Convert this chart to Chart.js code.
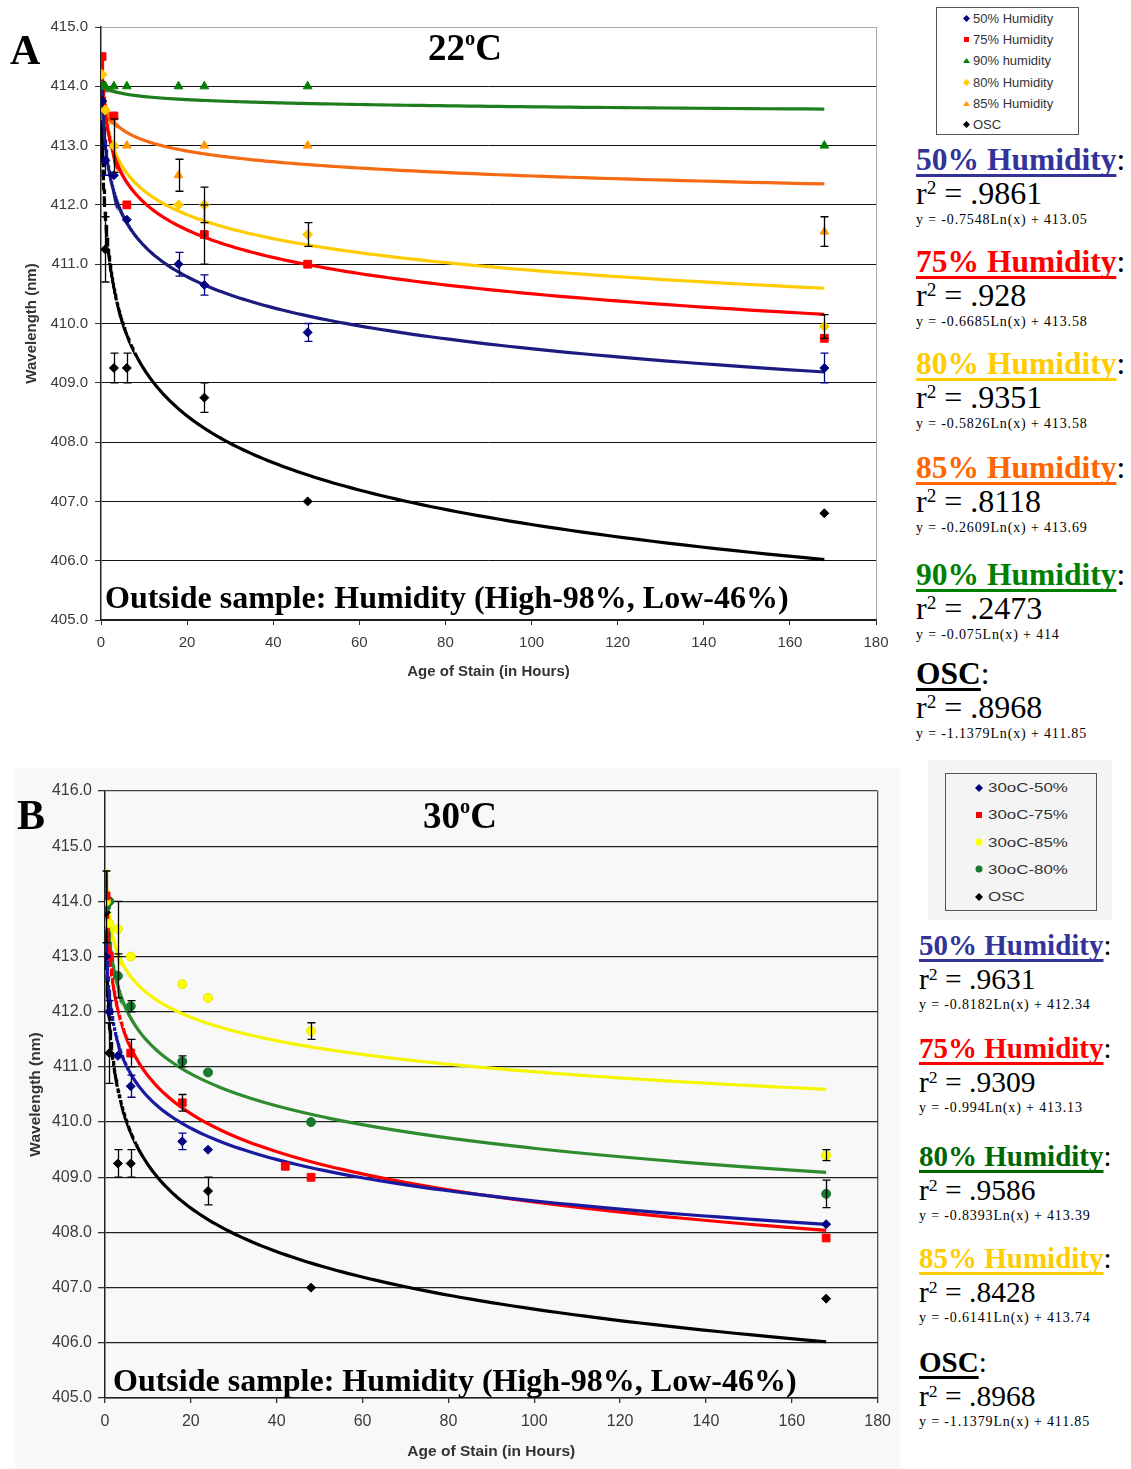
<!DOCTYPE html>
<html>
<head>
<meta charset="utf-8">
<title>Wavelength vs. age of stain</title>
<script src="https://cdn.jsdelivr.net/npm/chart.js@4.4.1/dist/chart.umd.min.js"></script>
<style>
  html, body { margin:0; padding:0; background:#fff; }
  body { position:relative; width:1131px; height:1469px; overflow:hidden; }
  .wrap { position:absolute; }
  .txt { position:absolute; white-space:nowrap; color:#000; }
  .sup { position:relative; line-height:0; }
  .hd { font-weight:bold; text-decoration:underline; text-decoration-thickness:3px; text-underline-offset:4px; text-decoration-skip-ink:none; }
  .box { position:absolute; box-sizing:border-box; }
</style>
</head>
<body>
<div class="wrap" style="left:15px;top:768px;width:885px;height:701px;background:#f8f8f8"></div>
<div class="wrap" style="left:0;top:0;width:900px;height:700px"><canvas id="chartA" width="900" height="700"></canvas></div>
<div class="wrap" style="left:0;top:750px;width:900px;height:719px"><canvas id="chartB" width="900" height="719"></canvas></div>
<script>
// ---------------- Panel A: 22 °C ----------------
const hoursA    = [0.25, 1, 3, 6, 18, 24, 48, 168];
const rh50A     = [413.75, 412.75, 412.5, 411.75, 411.0, 410.65, 409.85, 409.25];
const rh50AErr  = [0, 0.25, 0, 0, 0.2, 0.17, 0.15, 0.25];
const rh75A     = [414.5, null, 413.5, 412.0, null, 411.5, 411.0, 409.75];
const rh75AErr  = [0, 0, 0, 0, 0, 0.5, 0, 0];
const rh90A     = [414.0, 414.0, 414.0, 414.0, 414.0, 414.0, 414.0, 413.0];
const rh80A     = [414.2, 413.6, 413.0, null, 412.0, 412.0, 411.5, 409.95];
const rh80AErr  = [0, 0, 0.45, 0, 0, 0.3, 0.2, 0.2];
const rh85A     = [414.0, null, 413.0, 413.0, 412.5, 413.0, 413.0, 411.55];
const rh85AErr  = [0, 0, 0, 0, 0.27, 0, 0, 0.25];
const oscA      = [413.75, 411.25, 409.25, 409.25, null, 408.75, 407.0, 406.8];
const oscAErr   = [0, 0.55, 0.25, 0.25, 0, 0.25, 0, 0];
const seriesLabelsA = ['50% Humidity', '75% Humidity', '90% humidity', '80% Humidity', '85% Humidity', 'OSC'];

// logarithmic fits for panel A: y = slope·Ln(x) + intercept
const fitNamesA     = ['50% Humidity', '75% Humidity', '80% Humidity', '85% Humidity', '90% Humidity', 'OSC'];
const fitR2A        = ['.9861', '.928', '.9351', '.8118', '.2473', '.8968'];
const fitSlopeA     = [-0.7548, -0.6685, -0.5826, -0.2609, -0.075, -1.1379];
const fitInterceptA = [413.05, 413.58, 413.58, 413.69, 414, 411.85];

// ---------------- Panel B: 30 °C ----------------
const hoursB    = [0.25, 1, 3, 6, 18, 24, 42, 48, 168];
const rh50B     = [413.0, 412.0, 411.2, 410.65, 409.65, 409.5, null, null, 408.15];
const rh50BErr  = [0, 0.2, 0, 0.2, 0.15, 0, 0, 0, 0];
const rh75B     = [414.1, 413.0, null, 411.25, 410.35, null, 409.2, 409.0, 407.9];
const rh75BErr  = [0, 0, 0, 0.25, 0.15, 0, 0, 0, 0];
const rh85B     = [414.0, 413.6, 413.5, 413.0, 412.5, 412.25, null, 411.65, 409.4];
const rh85BErr  = [0, 0, 0.5, 0, 0, 0, 0, 0.15, 0.1];
const rh80B     = [413.9, 414.0, 412.65, 412.1, 411.1, 410.9, null, 410.0, 408.7];
const rh80BErr  = [0.65, 0, 0.4, 0.1, 0.1, 0, 0, 0, 0.25];
const oscB      = [413.8, 411.25, 409.25, 409.25, null, 408.75, null, 407.0, 406.8];
const oscBErr   = [0, 0.55, 0.25, 0.25, 0, 0.25, 0, 0, 0];
const seriesLabelsB = ['30oC-50%', '30oC-75%', '30oC-85%', '30oC-80%', 'OSC'];

const fitNamesB     = ['50% Humidity', '75% Humidity', '80% Humidity', '85% Humidity', 'OSC'];
const fitR2B        = ['.9631', '.9309', '.9586', '.8428', '.8968'];
const fitSlopeB     = [-0.8182, -0.994, -0.8393, -0.6141, -1.1379];
const fitInterceptB = [412.34, 413.13, 413.39, 413.74, 411.85];

const SANS = "'Liberation Sans', Arial, sans-serif";
const SERIF = "'Liberation Serif', 'Times New Roman', serif";

// ---------------- helpers ----------------
function seriesPoints(xs, ys, errs) {
  const out = [];
  xs.forEach((x, i) => { if (ys[i] !== null) out.push({ x: x, y: ys[i], err: errs ? errs[i] : 0 }); });
  return out;
}
// samples the fitted log curve over the measured time span
function fitCurve(slope, intercept, x0, x1) {
  const n = 240, pts = [];
  for (let k = 0; k <= n; k++) {
    const x = x0 * Math.pow(x1 / x0, k / n);
    pts.push({ x: x, y: slope * Math.log(x) + intercept });
  }
  return pts;
}
const steepDash = c => {
  const dx = Math.abs(c.p1.x - c.p0.x), dy = Math.abs(c.p1.y - c.p0.y);
  return dy > 2 * dx ? [8, 5] : undefined;
};

function pointSet(label, data, style) {
  return {
    label: label, data: data, showLine: false, isSeries: true,
    pointStyle: style.shape, pointRadius: style.r, pointHoverRadius: style.r,
    backgroundColor: style.color, borderColor: style.edge || style.color, borderWidth: 1,
    errorColor: style.err || '#000'
  };
}
function fitSet(slope, intercept, xs, color, dashed) {
  const ds = {
    data: fitCurve(slope, intercept, xs[0], xs[xs.length - 1]),
    showLine: true, pointRadius: 0, pointHoverRadius: 0, borderColor: color,
    borderWidth: 3.2, fill: false, tension: 0
  };
  if (dashed) ds.segment = { borderDash: steepDash };
  return ds;
}

// vertical error bars with caps, positioned through the chart scales
const errorBars = {
  id: 'errorBars',
  afterDatasetsDraw(chart) {
    const ctx = chart.ctx, xs = chart.scales.x, ys = chart.scales.y;
    ctx.save();
    ctx.lineWidth = 1.3;
    chart.data.datasets.forEach(ds => {
      if (!ds.isSeries) return;
      ds.data.forEach(p => {
        if (!p.err) return;
        const px = Math.round(xs.getPixelForValue(p.x)) + 0.5;
        const top = ys.getPixelForValue(p.y + p.err), bot = ys.getPixelForValue(p.y - p.err);
        ctx.strokeStyle = ds.errorColor;
        ctx.beginPath();
        ctx.moveTo(px, top); ctx.lineTo(px, bot);
        ctx.moveTo(px - 4, top); ctx.lineTo(px + 4, top);
        ctx.moveTo(px - 4, bot); ctx.lineTo(px + 4, bot);
        ctx.stroke();
      });
    });
    ctx.restore();
  }
};

function makeChart(id, datasets, g) {
  return new Chart(document.getElementById(id), {
    type: 'scatter',
    data: { datasets: datasets },
    plugins: [errorBars],
    options: {
      responsive: false, animation: false, events: [],
      layout: { padding: { top: g.padTop, right: g.padRight, left: 0, bottom: 0 } },
      plugins: { legend: { display: false }, tooltip: { enabled: false } },
      scales: {
        x: {
          type: 'linear', min: 0, max: 180,
          afterFit: s => { s.height = g.xHeight; },
          ticks: { stepSize: 20, maxRotation: 0, padding: g.xTickPad, color: '#3a3a3a', font: { family: SANS, size: g.tickSize } },
          grid: {
            color: c => (c.tick && c.tick.value === 180) ? g.frameColor : 'rgba(0,0,0,0)',
            lineWidth: g.gridWidth, tickColor: '#333', tickLength: 5
          },
          border: { display: true, color: '#222', width: 1.5 },
          title: { display: true, text: 'Age of Stain (in Hours)', color: '#333', padding: { top: 0, bottom: g.xTitlePad }, font: { family: SANS, size: g.titleSize, weight: 'bold' } }
        },
        y: {
          min: g.yMin, max: g.yMax,
          afterFit: s => { s.width = g.yWidth; },
          ticks: { stepSize: 1, padding: g.yTickPad, color: '#3a3a3a', font: { family: SANS, size: g.tickSize }, callback: v => Number(v).toFixed(1) },
          grid: {
            color: c => (c.tick && c.tick.value === g.yMax) ? g.topColor : g.gridColor,
            lineWidth: g.gridWidth, tickColor: '#333', tickLength: g.yTickLen
          },
          border: { display: true, color: '#222', width: 1.5 },
          title: { display: true, text: 'Wavelength (nm)', color: '#333', padding: { top: g.yTitlePad, bottom: 0 }, font: { family: SANS, size: g.titleSize, weight: 'bold' } }
        }
      }
    }
  });
}

Chart.defaults.font.family = SANS;

// ---------------- chart A ----------------
const chartA = makeChart('chartA', [
  pointSet(seriesLabelsA[0], seriesPoints(hoursA, rh50A, rh50AErr), { shape: 'rectRot', r: 4.5, color: '#000080', err: '#000080' }),
  pointSet(seriesLabelsA[1], seriesPoints(hoursA, rh75A, rh75AErr), { shape: 'rect', r: 5.5, color: '#FF0000' }),
  pointSet(seriesLabelsA[2], seriesPoints(hoursA, rh90A), { shape: 'triangle', r: 5, color: '#008000' }),
  pointSet(seriesLabelsA[3], seriesPoints(hoursA, rh80A, rh80AErr), { shape: 'rectRot', r: 5, color: '#FFCC00' }),
  pointSet(seriesLabelsA[4], seriesPoints(hoursA, rh85A, rh85AErr), { shape: 'triangle', r: 5, color: '#FF9900' }),
  pointSet(seriesLabelsA[5], seriesPoints(hoursA, oscA, oscAErr), { shape: 'rectRot', r: 4.5, color: '#000000' }),
  fitSet(fitSlopeA[0], fitInterceptA[0], hoursA, '#1C1C80', false),
  fitSet(fitSlopeA[1], fitInterceptA[1], hoursA, '#FF0000', false),
  fitSet(fitSlopeA[2], fitInterceptA[2], hoursA, '#FFCC00', false),
  fitSet(fitSlopeA[3], fitInterceptA[3], hoursA, '#F56A12', false),
  fitSet(fitSlopeA[4], fitInterceptA[4], hoursA, '#1E7E1E', false),
  fitSet(fitSlopeA[5], fitInterceptA[5], hoursA, '#000000', true)
], {
  yMin: 405, yMax: 415, padTop: 27, padRight: 24, yWidth: 101, xHeight: 80,
  tickSize: 15, titleSize: 15, xTickPad: 9, yTickPad: 7, yTickLen: 6,
  xTitlePad: 19, yTitlePad: 23, gridColor: '#111', topColor: '#a8a8a8', frameColor: '#a8a8a8', gridWidth: 1
});

// ---------------- chart B ----------------
const chartB = makeChart('chartB', [
  pointSet(seriesLabelsB[0], seriesPoints(hoursB, rh50B, rh50BErr), { shape: 'rectRot', r: 4.5, color: '#000080', err: '#000080' }),
  pointSet(seriesLabelsB[1], seriesPoints(hoursB, rh75B, rh75BErr), { shape: 'rect', r: 5.5, color: '#FF0000' }),
  pointSet(seriesLabelsB[2], seriesPoints(hoursB, rh85B, rh85BErr), { shape: 'circle', r: 4.5, color: '#FFFF00', edge: '#E6E600' }),
  pointSet(seriesLabelsB[3], seriesPoints(hoursB, rh80B, rh80BErr), { shape: 'circle', r: 4.5, color: '#157A2E' }),
  pointSet(seriesLabelsB[4], seriesPoints(hoursB, oscB, oscBErr), { shape: 'rectRot', r: 4.5, color: '#000000' }),
  fitSet(fitSlopeB[0], fitInterceptB[0], hoursB, '#1A1AA0', true),
  fitSet(fitSlopeB[1], fitInterceptB[1], hoursB, '#FF0000', true),
  fitSet(fitSlopeB[2], fitInterceptB[2], hoursB, '#2E8B2E', false),
  fitSet(fitSlopeB[3], fitInterceptB[3], hoursB, '#F5F500', false),
  fitSet(fitSlopeB[4], fitInterceptB[4], hoursB, '#000000', true)
], {
  yMin: 405, yMax: 416, padTop: 41, padRight: 16, yWidth: 105, xHeight: 71,
  tickSize: 16, titleSize: 15.5, xTickPad: 9, yTickPad: 6, yTickLen: 7,
  xTitlePad: 8, yTitlePad: 26, gridColor: '#222', topColor: '#444', frameColor: '#555', gridWidth: 1.3
});

// ---------------- text overlays ----------------
function textAt(html, x, baseline, size, family, extra) {
  const el = document.createElement('div');
  el.className = 'txt';
  const k = family === SERIF ? 0.8375 : 0.8465;
  el.style.left = x + 'px';
  el.style.top = (baseline - k * size) + 'px';
  el.style.fontSize = size + 'px';
  el.style.lineHeight = size + 'px';
  el.style.fontFamily = family;
  if (extra) Object.assign(el.style, extra);
  el.innerHTML = html;
  document.body.appendChild(el);
  return el;
}
const deg = '<span class="sup" style="top:-0.72em;font-size:0.55em">o</span>';
const sq = '<span class="sup" style="top:-0.55em;font-size:0.6em">2</span>';

textAt('A', 10, 64, 42, SERIF, { fontWeight: 'bold' });
textAt('22' + deg + 'C', 428, 60, 37, SERIF, { fontWeight: 'bold' });
textAt('Outside sample: Humidity (High-98%, Low-46%)', 105, 608, 32, SERIF, { fontWeight: 'bold' });
textAt('B', 17, 829, 42, SERIF, { fontWeight: 'bold' });
textAt('30' + deg + 'C', 423, 828, 37, SERIF, { fontWeight: 'bold' });
textAt('Outside sample: Humidity (High-98%, Low-46%)', 113, 1391, 32, SERIF, { fontWeight: 'bold' });

// fit summaries beside each panel
function fitNotes(names, colors, r2s, slopes, intercepts, layout) {
  names.forEach((name, i) => {
    const b = layout.baselines[i];
    textAt('<span class="hd" style="color:' + colors[i] + '">' + name + '</span>:', layout.left, b, layout.hSize, SERIF);
    textAt('r' + sq + ' = ' + r2s[i], layout.left, b + layout.dr, layout.rSize, SERIF);
    textAt('y = ' + slopes[i] + 'Ln(x) + ' + intercepts[i], layout.left, b + layout.de, layout.eSize, SERIF, { letterSpacing: '0.85px' });
  });
}
fitNotes(fitNamesA, ['#333399', '#FF0000', '#FFCC00', '#FF6600', '#008000', '#000000'], fitR2A, fitSlopeA, fitInterceptA,
  { left: 916, baselines: [170, 272, 374, 478, 585, 684], dr: 34, de: 55, hSize: 31.5, rSize: 32, eSize: 14 });
fitNotes(fitNamesB, ['#333399', '#FF0000', '#006600', '#FFCC00', '#000000'], fitR2B, fitSlopeB, fitInterceptB,
  { left: 919, baselines: [955, 1058, 1166, 1268, 1372], dr: 35, de: 55, hSize: 29, rSize: 29.5, eSize: 14 });

// legends built from the scatter datasets
function markerSvg(ds, size) {
  const s = size, h = s / 2, c = ds.backgroundColor;
  let shape;
  if (ds.pointStyle === 'rectRot') shape = '<polygon points="' + h + ',0 ' + s + ',' + h + ' ' + h + ',' + s + ' 0,' + h + '" fill="' + c + '"/>';
  else if (ds.pointStyle === 'rect') shape = '<rect x="1" y="1" width="' + (s - 2) + '" height="' + (s - 2) + '" fill="' + c + '"/>';
  else if (ds.pointStyle === 'triangle') shape = '<polygon points="' + h + ',1 ' + s + ',' + (s - 1) + ' 0,' + (s - 1) + '" fill="' + c + '"/>';
  else shape = '<circle cx="' + h + '" cy="' + h + '" r="' + (h - 0.5) + '" fill="' + c + '"/>';
  return '<svg width="' + s + '" height="' + s + '" viewBox="0 0 ' + s + ' ' + s + '">' + shape + '</svg>';
}
function htmlLegend(chart, box, rows) {
  const frame = document.createElement('div');
  frame.className = 'box';
  Object.assign(frame.style, { left: box.x + 'px', top: box.y + 'px', width: box.w + 'px', height: box.h + 'px', border: '1px solid #555', background: box.bg });
  document.body.appendChild(frame);
  chart.data.datasets.filter(d => d.isSeries).forEach((ds, i) => {
    const base = rows.first + i * rows.step;
    const m = document.createElement('div');
    m.style.position = 'absolute';
    m.style.left = (rows.markerX - rows.markerSize / 2) + 'px';
    m.style.top = (base - rows.markerLift - rows.markerSize / 2) + 'px';
    m.style.lineHeight = '0';
    m.innerHTML = markerSvg(ds, rows.markerSize);
    document.body.appendChild(m);
    textAt(ds.label, rows.textX, base, rows.size, SANS, { color: '#333', transform: 'scaleX(' + rows.stretch + ')', transformOrigin: 'left center' });
  });
}
const legendBgB = document.createElement('div');
legendBgB.className = 'box';
Object.assign(legendBgB.style, { left: '928px', top: '760px', width: '184px', height: '160px', background: '#f4f4f4' });
document.body.appendChild(legendBgB);

htmlLegend(chartA, { x: 936, y: 7, w: 143, h: 128, bg: '#fff' },
  { first: 22.7, step: 21.3, markerX: 966, markerSize: 7, markerLift: 4.5, textX: 973, size: 13, stretch: 1 });
htmlLegend(chartB, { x: 945, y: 773, w: 152, h: 138, bg: '#f4f4f4' },
  { first: 792, step: 27.3, markerX: 979, markerSize: 8, markerLift: 4.5, textX: 988, size: 13, stretch: 1.3 });
</script>
</body>
</html>
